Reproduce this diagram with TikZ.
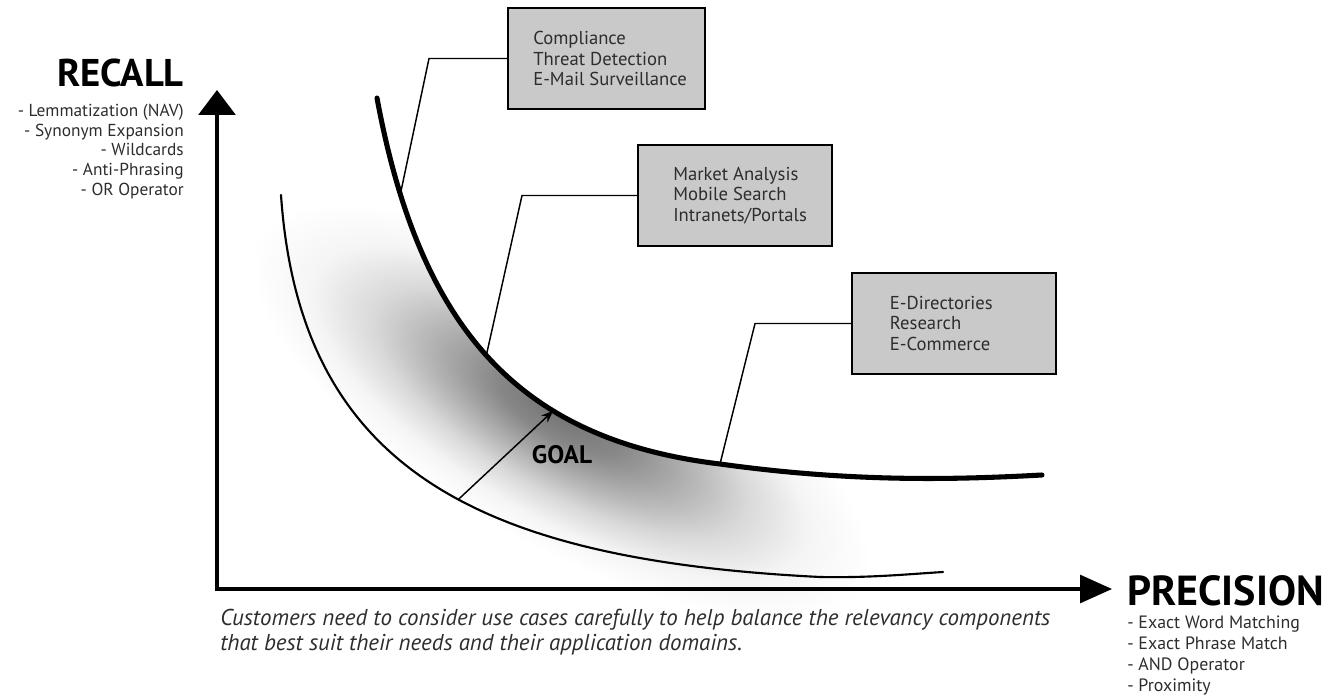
\documentclass[tikz,border=0pt]{standalone}
\usepackage{fontspec}
\setmainfont{PT Sans}
\usetikzlibrary{arrows.meta}
\definecolor{boxfill}{RGB}{201,201,201}
\definecolor{inkgray}{RGB}{45,45,45}
% soft glow under the frontier curve (path box maps to the central 25bp radius)
\pgfdeclareradialshading{goalglow}{\pgfpoint{0bp}{0bp}}{%
  color(0bp)=(black!55); color(5bp)=(black!47); color(10bp)=(black!31);
  color(15bp)=(black!15); color(20bp)=(black!4); color(25bp)=(white); color(50bp)=(white)}
\begin{document}
\begin{tikzpicture}[x=0.75pt,y=-0.75pt,
  axisline/.style={line width=2.3pt},
  frontier/.style={line width=3.8pt, line cap=round},
  basecurve/.style={line width=1.6pt, line cap=round},
  leader/.style={line width=1.1pt},
  usecase/.style={draw=black, line width=1.5pt, fill=boxfill, inner sep=0pt,
    anchor=north west, minimum height=75.75pt},
  boxtext/.style={anchor=west, align=left, inner sep=0pt, text=inkgray,
    font=\fontsize{14}{15.4}\selectfont},
  axistitle/.style={inner sep=0pt, font=\bfseries\fontsize{29}{30}\selectfont},
  techlist/.style={inner sep=0pt, text=inkgray, font=\fontsize{13}{14.6}\selectfont},
]
\useasboundingbox (0,0) rectangle (1329,699);

% gray glow between the two curves
\begin{scope}
  \clip (377,98) .. controls (420,330) and (520,440) .. (720,464)
        .. controls (850,482) and (950,480) .. (1042,475)
        -- (1042,640) -- (250,640) -- (250,98) -- cycle;
  \begin{scope}[transform canvas={rotate around={-30:(560,412)}}]
    \shade[shading=goalglow] (560,412) ellipse [x radius=350, y radius=130];
  \end{scope}
\end{scope}

% axes
\coordinate (ytip) at (217,90);
\coordinate (origin) at (217,589);
\coordinate (xtip) at (1112,589);
\draw[axisline, {Triangle[length=18.75pt,width=27.75pt]}-{Triangle[length=24pt,width=21pt]}]
  (ytip) -- (origin) -- (xtip);

% frontier curve
\draw[frontier] (377,98) .. controls (420,330) and (520,440) ..
  coordinate[pos=0.15] (hitA) coordinate[pos=0.49] (hitB) coordinate[pos=0.67] (goalTip)
  (720,464) coordinate (hitC)
  .. controls (850,482) and (950,480) .. (1042,475);

% lower curve
\draw[basecurve] (281,195) .. controls (300,470) and (480,560) ..
  coordinate[pos=0.55] (goalTail) (820,577)
  .. controls (870,578) and (910,574) .. (943,572);

% goal arrow
\draw[leader, -{Stealth[length=9pt,width=7pt]}] (goalTail) -- (goalTip);
\node[inner sep=0pt, font=\bfseries\fontsize{19}{20}\selectfont] (goal) at (562,455) {GOAL};

% use-case boxes
\node[usecase, minimum width=147.75pt] (box1) at (507,7) {};
\node[boxtext] (txt1) at ([xshift=19.5pt]box1.west) {Compliance\\Threat Detection\\E-Mail Surveillance};
\node[usecase, minimum width=145.5pt] (box2) at (637,144) {};
\node[boxtext] (txt2) at ([xshift=27pt]box2.west) {Market Analysis\\Mobile Search\\Intranets/Portals};
\node[usecase, minimum width=153pt] (box3) at (851,272) {};
\node[boxtext] (txt3) at ([xshift=29pt]box3.west) {E-Directories\\Research\\E-Commerce};

% leaders from boxes to the frontier
\draw[leader] (box1.west) -- ++(-78,0) -- (hitA);
\draw[leader] (box2.west) -- ++(-115,0) -- (hitB);
\draw[leader] (box3.west) -- ++(-96,0) -- (hitC);

% axis titles and technique lists
\node[axistitle, anchor=base east] (recall) at (184,87) {RECALL};
\node[techlist, anchor=north east, align=right, font=\fontsize{13}{14.7}\selectfont] (recallList) at (184,104)
  {- Lemmatization (NAV)\\- Synonym Expansion\\- Wildcards\\- Anti-Phrasing\\- OR Operator};
\node[axistitle, anchor=base west, font=\bfseries\fontsize{31.5}{32}\selectfont] (precision) at (1127,605) {PRECISION};
\node[techlist, anchor=north west, align=left, font=\fontsize{13.4}{15.75}\selectfont] (precisionList) at (1127,616)
  {- Exact Word Matching\\- Exact Phrase Match\\- AND Operator\\- Proximity};

% caption
\node[inner sep=0pt, anchor=north west, align=left, text=inkgray,
  font=\itshape\fontsize{17.2}{19}\selectfont] (caption) at (220,609)
  {Customers need to consider use cases carefully to help balance the relevancy components\\
   that best suit their needs and their application domains.};
\end{tikzpicture}
\end{document}
